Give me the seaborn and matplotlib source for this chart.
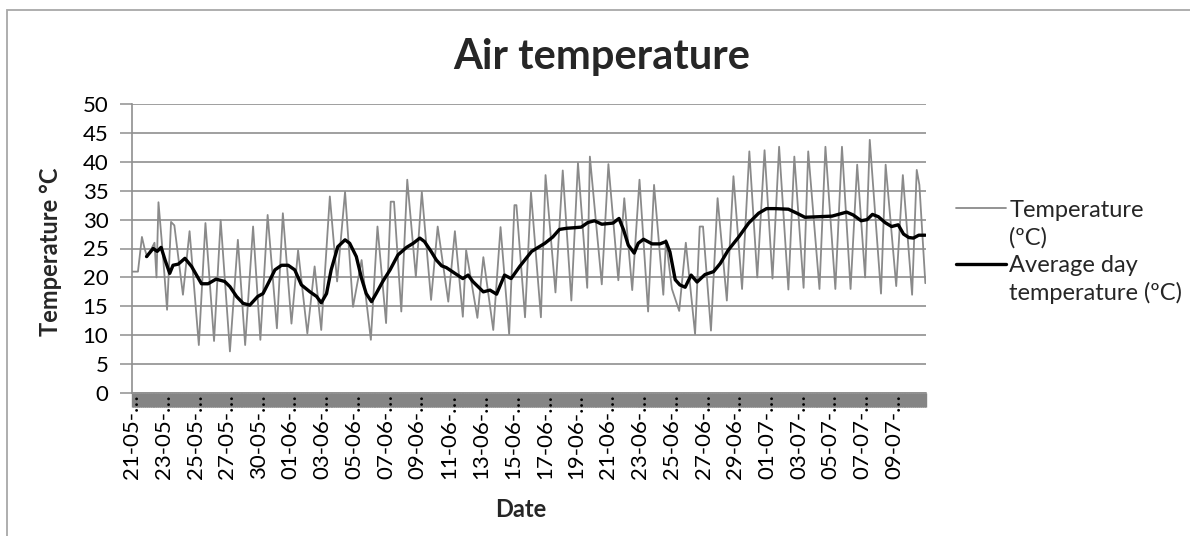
import matplotlib
matplotlib.use("Agg")
import matplotlib.pyplot as plt
import numpy as np
import pandas as pd
import seaborn as sns
from matplotlib.legend_handler import HandlerLine2D
from matplotlib.lines import Line2D
from matplotlib.patches import Rectangle
from matplotlib.ticker import MultipleLocator, FixedLocator, NullFormatter, FixedFormatter

# ---------------- data ----------------
# position of each reading on the category axis (reading number) and its value
temp_idx = [0, 9, 15, 19, 23, 34, 37, 40, 47, 53, 59, 64, 77, 87, 101, 111, 124, 134,
            148, 160, 171, 183, 194, 205, 219, 228, 241, 251, 265, 276, 286, 299, 310,
            322, 334, 347, 361, 371, 384, 391, 396, 407, 416, 429, 438, 452, 462, 478,
            488, 500, 505, 522, 531, 546, 557, 570, 578, 581, 594, 603, 618, 625, 640,
            651, 664, 674, 688, 692, 710, 720, 735, 744, 756, 767, 780, 789, 803, 807,
            816, 827, 837, 851, 858, 863, 875, 885, 899, 909, 922, 933, 945, 956, 968,
            978, 992, 1001, 1015, 1022, 1039, 1048, 1063, 1073, 1086, 1096, 1108, 1115,
            1132, 1139, 1155, 1165, 1179, 1186, 1190, 1199]
temp_val = [21, 21, 27, 25, 23.5, 26, 20, 33, 23.5, 14.4, 29.6, 29, 17, 28, 8.3, 29.4, 9, 29.9,
            7.2, 26.5, 8.3, 28.8, 9.2, 30.8, 11.2, 31.1, 12, 24.7, 10.3, 21.9, 10.9, 34, 19.3,
            34.8, 14.9, 23, 9.2, 28.8, 12.1, 33.1, 33.1, 14.1, 36.9, 20.1, 34.8, 16.1, 28.8, 15.8,
            28, 13.2, 24.7, 13, 23.5, 10.9, 28.7, 10.2, 32.5, 32.5, 13.1, 34.7, 13.1, 37.7, 17.4,
            38.5, 16, 39.8, 18.2, 40.9, 18.8, 39.6, 19.5, 33.7, 17.8, 36.9, 14.1, 36, 17, 26.5,
            18, 14.2, 26, 10.2, 28.8, 28.8, 10.8, 33.7, 16, 37.5, 18, 41.8, 20, 42, 19.8,
            42.6, 17.9, 40.9, 18.2, 41.8, 18, 42.6, 18, 42.6, 18, 39.5, 20, 43.8,
            17.2, 39.5, 18.5, 37.7, 17, 38.6, 36, 19]

avg_idx = [22, 32, 38, 44, 50, 57, 62, 70, 80, 90, 105, 115, 127, 140, 148, 158, 168, 178,
           190, 198, 206, 216, 226, 236, 246, 256, 269, 279, 286, 294, 301, 311, 322, 329,
           339, 347, 354, 362, 369, 379, 390, 402, 415, 425, 435, 442, 452, 460, 468, 475,
           488, 500, 508, 515, 531, 541, 551, 563, 573, 586, 604, 624, 636, 646, 657, 669,
           679, 689, 699, 710, 727, 736, 743, 750, 759, 765, 773, 786, 798, 807, 813, 821,
           828, 836, 845, 854, 866, 879, 889, 901, 917, 932, 947, 959, 972, 992, 1005, 1017,
           1038, 1058, 1080, 1090, 1102, 1111, 1119, 1128, 1138, 1148, 1158, 1166, 1174,
           1181, 1189, 1199]
avg_val = [23.6, 25, 24.5, 25.2, 23, 20.7, 22.1, 22.3, 23.3, 21.9, 18.9, 18.9, 19.7, 19.3, 18.4,
           16.7, 15.5, 15.2, 16.7, 17.2, 19, 21.3, 22.1, 22.1, 21.3, 18.7, 17.5, 16.7, 15.6,
           17.2, 21.3, 25.3, 26.5, 25.9, 23.6, 19.8, 17.2, 15.8, 17.2, 19.3, 21.3, 23.9, 25.2,
           25.9, 26.8, 26.2, 24.5, 23, 22, 21.7, 20.7, 19.8, 20.4, 19.3, 17.5, 17.8, 17.1, 20.4,
           19.8, 21.9, 24.5, 25.9, 27, 28.3, 28.5, 28.6, 28.7, 29.5, 29.8, 29.2, 29.4, 30.2,
           28.2, 25.6, 24.2, 25.9, 26.6, 25.8, 25.8, 26.2, 24.4, 19.6, 18.7, 18.3, 20.4, 19.2,
           20.5, 21, 22.4, 24.7, 27, 29.4, 31.1, 31.9, 31.9, 31.8, 31.1, 30.4, 30.5, 30.6,
           31.3, 30.8, 29.8, 30, 30.9, 30.5, 29.5, 28.8, 29.1, 27.5, 26.9, 26.8, 27.3, 27.3]

tick_labels = ["21-05-…", "23-05-…", "25-05-…", "27-05-…", "30-05-…",
               "01-06-…", "03-06-…", "05-06-…", "07-06-…", "09-06-…",
               "11-06-…", "13-06-…", "15-06-…", "17-06-…", "19-06-…",
               "21-06-…", "23-06-…", "25-06-…", "27-06-…", "29-06-…",
               "01-07-…", "03-07-…", "05-07-…", "07-07-…", "09-07-…"]
n_readings = 1200
label_every = 48

series_names = ["Temperature\n(ºC)", "Average day\ntemperature (ºC)"]

# ---------------- figure ----------------
sns.set_theme(style="white")
plt.rcParams['font.family'] = ['Lato', 'DejaVu Sans']

W, H = 1190, 536
fig = plt.figure(figsize=(W / 100, H / 100), dpi=100)
L, R, T, B = 132, 926, 104, 393
ax = fig.add_axes([L / W, 1 - B / H, (R - L) / W, (B - T) / H])

temp_df = pd.DataFrame({"reading": temp_idx, "value": temp_val})
avg_df = pd.DataFrame({"reading": avg_idx, "value": avg_val})

sns.lineplot(data=temp_df, x="reading", y="value", ax=ax, color="#8a8a8a", lw=1.3,
             sort=False, estimator=None, label=series_names[0], zorder=3)
sns.lineplot(data=avg_df, x="reading", y="value", ax=ax, color="black", lw=2.4,
             sort=False, estimator=None, label=series_names[1], zorder=4)

ax.set_xlim(0, n_readings)
ax.set_ylim(0, 50)

# y axis
ax.yaxis.set_major_locator(MultipleLocator(5))
ax.yaxis.grid(True, color="#8f8f8f", lw=1.2)
ax.xaxis.grid(False)
ax.set_axisbelow(True)
ax.tick_params(axis="y", which="major", left=True, length=9, width=1.1,
               color="#8f8f8f", labelsize=16, pad=8, labelcolor="black")

# x axis: one tick per reading (dense band), labels every 48 readings
label_pos = list(range(0, label_every * len(tick_labels), label_every))
ax.xaxis.set_major_locator(MultipleLocator(1))
ax.xaxis.set_major_formatter(NullFormatter())
ax.xaxis.set_minor_locator(FixedLocator(label_pos))
ax.xaxis.set_minor_formatter(FixedFormatter(tick_labels))
ax.xaxis.remove_overlapping_locs = False
ax.tick_params(axis="x", which="major", bottom=True, length=10, width=1.0,
               color="#858585", direction="out")
ax.tick_params(axis="x", which="minor", bottom=True, length=0, labelsize=16,
               labelrotation=90, pad=1, labelcolor="black")

for s in ["top", "right"]:
    ax.spines[s].set_visible(False)
for s in ["left", "bottom"]:
    ax.spines[s].set_color("#8f8f8f")
    ax.spines[s].set_linewidth(1.2)

ax.set_xlabel("Date", fontsize=17, fontweight="bold")
ax.xaxis.set_label_coords(0.49, -0.365)
ax.set_ylabel("Temperature °C", fontsize=17, fontweight="bold")
ax.yaxis.set_label_coords(-0.088, 0.49)

fig.text(602 / W, 1 - 57 / H, "Air temperature", fontsize=30, fontweight="bold",
         ha="center", va="center")


class UpperLine(HandlerLine2D):
    """Legend line aligned with the first text line (as in the spreadsheet chart)."""
    def create_artists(self, legend, orig_handle, xdescent, ydescent, width, height,
                       fontsize, trans):
        arts = super().create_artists(legend, orig_handle, xdescent, ydescent, width,
                                      height, fontsize, trans)
        for a in arts:
            yd = np.asarray(a.get_ydata(), dtype=float)
            a.set_ydata(yd + 0.68 * fontsize)
        return arts


handles, labels = ax.get_legend_handles_labels()
leg = ax.legend(handles, labels, loc="upper left", bbox_to_anchor=(956 / W, 1 - 200 / H),
                bbox_transform=fig.transFigure, frameon=False, fontsize=17,
                handlelength=2.1, handletextpad=0.15, labelspacing=0.3, borderpad=0,
                borderaxespad=0, handler_map={Line2D: UpperLine()})
for t in leg.get_texts():
    t.set_linespacing(1.32)

# chart-area border
fig.patches.append(Rectangle((7 / W, -0.2), 1.5, 1.2 - 10 / H, transform=fig.transFigure,
                             fill=False, ec="#a8a8a8", lw=1.3))

fig.savefig("out.png", dpi=100)
